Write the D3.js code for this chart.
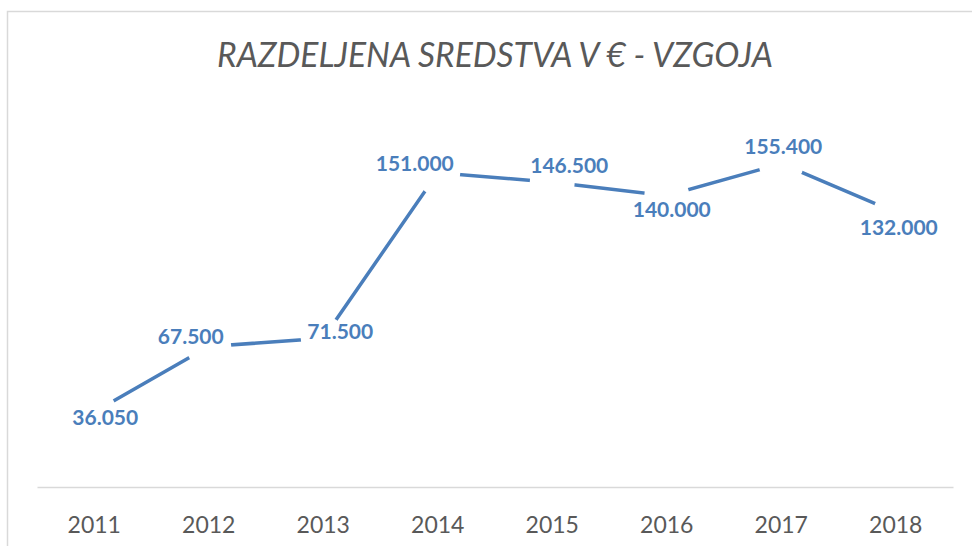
<!DOCTYPE html>
<html>
<head>
<meta charset="utf-8">
<script src="https://cdn.jsdelivr.net/npm/d3@7"></script>
<style>
  body { margin: 0; background: #fff; }
  svg { display: block; }
</style>
</head>
<body>
<div id="chart"></div>
<script>
// data
var years = ["2011", "2012", "2013", "2014", "2015", "2016", "2017", "2018"];
var amounts = [36050, 67500, 71500, 151000, 146500, 140000, 155400, 132000];
var labelTexts = ["36.050", "67.500", "71.500", "151.000", "146.500", "140.000", "155.400", "132.000"];
// hand-placed label nudges (like dragged labels in the original)
var labelDx = [11, -18, 17, -23, 17, 5, 2, 3];
var labelDy = [5, -11, -7, -10, -17, 13, -18, 15];

var width = 972, height = 546;
var margin = {left: 37, right: 19, top: 112.5, bottom: 59};
var blue = "#4a7ebb";
var grey = "#595959";

var svg = d3.select("#chart").append("svg")
  .attr("width", width)
  .attr("height", height);

// chart area border
svg.append("rect")
  .attr("x", 7.5).attr("y", 11.5)
  .attr("width", 1000).attr("height", 600)
  .attr("fill", "none")
  .attr("stroke", "#d9d9d9")
  .attr("stroke-width", 1.5);

svg.append("text")
  .attr("x", 495).attr("y", 67)
  .attr("text-anchor", "middle")
  .attr("textLength", 556)
  .attr("lengthAdjust", "spacingAndGlyphs")
  .style("font-family", "Lato, 'Open Sans', sans-serif")
  .style("font-style", "italic")
  .style("font-weight", 400)
  .style("font-size", "34px")
  .attr("fill", grey)
  .text("RAZDELJENA SREDSTVA V € - VZGOJA");

var x = d3.scaleBand()
  .domain(years)
  .range([margin.left, width - margin.right]);

var y = d3.scaleLinear()
  .domain([0, 180000])
  .range([height - margin.bottom, margin.top]);

var cx = function(i) { return x(years[i]) + x.bandwidth() / 2; };

// x axis
var xAxis = svg.append("g")
  .attr("transform", "translate(0," + y(0) + ")")
  .call(d3.axisBottom(x).tickSize(0).tickPadding(30));
xAxis.select(".domain").attr("stroke", "#d9d9d9").attr("stroke-width", 1.5);
xAxis.selectAll("text")
  .style("font-family", "Lato, sans-serif")
  .style("font-size", "23px")
  .attr("fill", grey);

var line = d3.line()
  .x(function(d, i) { return cx(i); })
  .y(function(d) { return y(d); });

svg.append("path")
  .datum(amounts)
  .attr("d", line)
  .attr("fill", "none")
  .attr("stroke", blue)
  .attr("stroke-width", 3.5);

// white gaps round each point, as in the original
svg.selectAll(".gap")
  .data(amounts)
  .enter()
  .append("circle")
  .classed("gap", true)
  .attr("cx", function(d, i) { return cx(i); })
  .attr("cy", function(d) { return y(d); })
  .attr("r", 22.5)
  .attr("fill", "#fff");

svg.selectAll(".lbl")
  .data(amounts)
  .enter()
  .append("text")
  .classed("lbl", true)
  .attr("x", function(d, i) { return cx(i) + labelDx[i]; })
  .attr("y", function(d, i) { return y(d) + labelDy[i] + 8; })
  .attr("text-anchor", "middle")
  .style("font-family", "Lato, sans-serif")
  .style("font-weight", "bold")
  .style("font-size", "21px")
  .attr("fill", blue)
  .text(function(d, i) { return labelTexts[i]; });
</script>
</body>
</html>
